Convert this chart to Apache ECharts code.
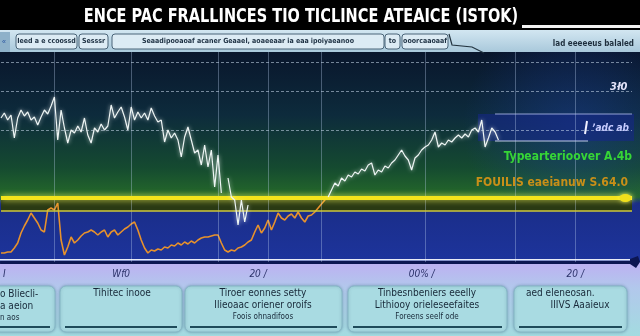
<!DOCTYPE html>
<html><head><meta charset="utf-8">
<script src="https://cdn.jsdelivr.net/npm/echarts@6/dist/echarts.min.js"></script>
<style>html,body{margin:0;padding:0;background:#000;}#c{width:640px;height:336px;}</style>
</head><body><div id="c"></div>
<script>
// ---- data ----
const dayCount = 190;
const categories = Array.from({length: dayCount}, (_, i) => 'D' + (i + 1));
const tickLabels = {1: 'I', 36: 'Wf0', 77: '20 /', 126: '00% /', 172: '20 /'};

// price (white) segments
const priceEarly = [144,149,142,147,124,144,152,146,150,142,145,137,145,152,148,156,165,122,152,134,
  119,132,129,136,130,144,127,119,134,130,138,132,136,157,144,150,155,145,132,155,
  142,150,144,149,142,154,146,140,142,120,132,124,129,122,105,125,135,122,109,112,
  97,117,95,112,75,107,69];
const priceSpike = [84,65,62,37,62,40,57];
const priceRecovery = [65,72,79,76,84,81,87,85,90,88,93,91,97,99,87,92,90,96,94,99,
  102,107,112,106,102,92,104,107,112,115,117,122,130,115,119,117,122,120,124,127,
  124,128,125,132,134,130,142,115,124,134,130,122];
// oscillator (orange)
const oscValues = [9,9,10,10,14,19,29,36,42,49,44,39,32,30,52,54,52,59,22,7,
  15,25,19,22,26,29,30,32,30,27,30,32,25,30,32,27,30,33,35,38,
  40,32,22,14,9,12,11,13,12,15,14,17,16,19,17,20,18,21,19,22,
  24,25,25,26,27,27,19,12,10,12,11,14,15,17,20,22,30,37,29,34,
  42,32,40,49,44,42,46,48,44,50,44,40,46,47,50,54,58,62,65];
const supportLevel = 64;     // thick yellow
const lowerBand = 51;        // thin yellow
const supportEndIndex = 187; // marker at line end
const gridY = [200, 171, 132];
const gridX = [16, 39, 65, 80, 96, 127, 154, 172];

function place(segments) {
  const arr = new Array(dayCount).fill(null);
  segments.forEach(([start, vals]) => vals.forEach((v, i) => { arr[start + i] = v; }));
  return arr;
}
const whiteSeries = place([[0, priceEarly], [68, priceSpike], [98, priceRecovery]]);
const orangeSeries = place([[0, oscValues]]);

// ---- chart ----
const chart = echarts.init(document.getElementById('c'), null, {renderer: 'canvas', width: 640, height: 336});
const NARROW = "'Liberation Sans Narrow','DejaVu Sans Condensed',sans-serif";
const COND = "'DejaVu Sans Condensed','Liberation Sans Narrow',sans-serif";

function button(x, w, label) {
  return [
    {type: 'rect', z: -5, shape: {x: x, y: 34, width: w, height: 15, r: 3},
      style: {fill: '#dcebf4', stroke: '#4a6478', lineWidth: 1}},
    {type: 'text', z: -4, style: {x: x + w / 2, y: 41.5, text: label, textAlign: 'center', textVerticalAlign: 'middle',
      fill: '#1d3042', font: 'bold 7px ' + COND}}
  ];
}
function card(x, w, lines) {
  const els = [
    {type: 'rect', z: -5, shape: {x: x, y: 286, width: w, height: 46, r: 6},
      style: {fill: '#a9dbe2', stroke: '#86b7c6', lineWidth: 1, shadowBlur: 3, shadowColor: 'rgba(40,80,110,0.35)'}},
    {type: 'line', z: -4, shape: {x1: x + 5, y1: 327, x2: x + w - 5, y2: 327},
      style: {stroke: '#1f4b5a', lineWidth: 2}}
  ];
  lines.forEach(l => els.push({type: 'text', z: -4, style: {x: l.x, y: l.y, text: l.t, textAlign: l.a || 'center',
    textVerticalAlign: 'middle', fill: '#172838', font: (l.s || 10) + 'px ' + COND}}));
  return els;
}

const graphics = [
  // title bar
  {type: 'rect', z: -10, shape: {x: 0, y: 0, width: 640, height: 30}, style: {fill: '#000'}},
  {type: 'text', z: 10, x: 301, y: 17, scaleX: 0.85,
    style: {x: 0, y: 0, text: 'ENCE PAC FRALLINCES TIO TICLINCE ATEAICE (ISTOK)',
    textAlign: 'center', textVerticalAlign: 'middle', fill: '#ffffff', font: 'bold 19px ' + NARROW}},
  {type: 'rect', z: 10, shape: {x: 522, y: 25, width: 118, height: 3}, style: {fill: '#f2f2f2'}},
  // toolbar
  {type: 'rect', z: -10, shape: {x: 0, y: 30, width: 640, height: 23},
    style: {fill: new echarts.graphic.LinearGradient(0, 0, 0, 1, [{offset: 0, color: '#d2e6f1'}, {offset: 1, color: '#a7c7da'}])}},
  {type: 'rect', z: -5, shape: {x: 0, y: 32, width: 10, height: 20}, style: {fill: '#8eb1c9'}},
  {type: 'text', z: -4, style: {x: 4, y: 42, text: '«', textAlign: 'center', textVerticalAlign: 'middle', fill: '#2a55a0', font: '7px sans-serif'}},
  ...button(16, 61, 'Ieed a e ccoossd'),
  ...button(79, 29, 'Sesssr'),
  ...button(112, 272, 'Seaadipooaoaf acaner Geaael, aoaeeaar ia eaa ipoiyaeanoo'),
  ...button(385, 15, 'to'),
  ...button(402, 46, 'ooorcaaoaaf'),
  {type: 'polyline', z: -4, shape: {points: [[449, 34], [452, 45], [472, 47], [484, 53]]},
    style: {stroke: '#22333f', lineWidth: 1.2, fill: null}},
  {type: 'text', z: -4, style: {x: 634, y: 44, text: 'lad eeeeeus balaled', textAlign: 'right', textVerticalAlign: 'middle',
    fill: '#1e2e3c', font: 'bold 8px ' + COND}},
  // plot background
  {type: 'rect', z: -10, shape: {x: 0, y: 52, width: 640, height: 210},
    style: {fill: new echarts.graphic.LinearGradient(0, 0, 0, 1, [
      {offset: 0, color: '#09162c'}, {offset: 0.3, color: '#0d2b3c'}, {offset: 0.55, color: '#154a30'},
      {offset: 0.69, color: '#256a2a'}, {offset: 0.72, color: '#1a2d88'}, {offset: 1, color: '#1d349c'}])}},
  {type: 'rect', z: -9, shape: {x: 380, y: 52, width: 260, height: 150},
    style: {fill: new echarts.graphic.RadialGradient(0.75, 0.5, 0.75, [
      {offset: 0, color: 'rgba(28,60,160,0.45)'}, {offset: 1, color: 'rgba(28,60,160,0)'}])}},
  // lower panel
  {type: 'rect', z: -10, shape: {x: 0, y: 262, width: 640, height: 74},
    style: {fill: new echarts.graphic.LinearGradient(0, 0, 0, 1, [
      {offset: 0, color: '#bdb0f2'}, {offset: 0.35, color: '#b2c8ec'}, {offset: 1, color: '#a3dbe0'}])}},
  {type: 'rect', z: 6, shape: {x: 0, y: 259, width: 634, height: 1.5}, style: {fill: 'rgba(255,255,255,0.9)'}},
  {type: 'polygon', z: 6, shape: {points: [[630, 259], [638, 256], [640, 262], [636, 268], [630, 264]]}, style: {fill: '#0c1652'}},
  // right side labels
  {type: 'text', z: 10, style: {x: 610, y: 87, text: '3ł0', textAlign: 'left', textVerticalAlign: 'middle', fill: '#e4e4fa', font: 'italic bold 11px ' + COND}},
  {type: 'rect', z: 1, shape: {x: 478, y: 114, width: 156, height: 27}, style: {fill: 'rgba(22,38,140,0.55)'}},
  {type: 'line', z: 5, shape: {x1: 495, y1: 114, x2: 632, y2: 114}, style: {stroke: 'rgba(170,182,232,0.85)', lineWidth: 1}},
  {type: 'line', z: 5, shape: {x1: 495, y1: 141, x2: 588, y2: 141}, style: {stroke: 'rgba(210,218,244,0.9)', lineWidth: 1}},
  {type: 'line', z: 5, shape: {x1: 587, y1: 121, x2: 585, y2: 134}, style: {stroke: '#f0f0ff', lineWidth: 2}},
  {type: 'text', z: 10, style: {x: 592, y: 128, text: 'ʼadc ab', textAlign: 'left', textVerticalAlign: 'middle', fill: '#c6cbff', font: 'italic bold 10px ' + COND}},
  {type: 'text', z: 10, style: {x: 632, y: 157, text: 'Typearterioover A.4b', textAlign: 'right', textVerticalAlign: 'middle', fill: '#36d636', font: 'bold 12px ' + COND}},
  {type: 'text', z: 10, style: {x: 628, y: 183, text: 'FOUILIS eaeianuw S.64.0', textAlign: 'right', textVerticalAlign: 'middle', fill: '#c88f18', font: 'bold 12px ' + COND}},
  // cards
  ...card(-6, 61, [{x: 0, y: 294, t: 'o Bliecli-', a: 'left'}, {x: 0, y: 306, t: 'a aeion', a: 'left'}, {x: 0, y: 318, t: 'n aos', a: 'left', s: 8}]),
  ...card(60, 122, [{x: 122, y: 293, t: 'Tihitec inooe'}]),
  ...card(185, 157, [{x: 263, y: 293, t: 'Tiroer eonnes setty'}, {x: 263, y: 305, t: 'Ilieoaac oriener oroifs'}, {x: 263, y: 317, t: 'Foois ohnadifoos', s: 8}]),
  ...card(348, 159, [{x: 427, y: 293, t: 'Tinbesnbeniers eeelly'}, {x: 427, y: 305, t: 'Lithiooy orieleseefaites'}, {x: 427, y: 317, t: 'Foreens seelf ode', s: 8}]),
  ...card(514, 113, [{x: 526, y: 293, t: 'aed eleneosan.', a: 'left'}, {x: 580, y: 305, t: 'IIIVS Aaaieux'}])
];

const option = {
  backgroundColor: '#000',
  animation: false,
  grid: {left: 0, right: 8, top: 52, height: 210},
  xAxis: {
    type: 'category', data: categories, boundaryGap: false,
    axisLine: {show: true, lineStyle: {color: '#0c1652', width: 3}},
    axisTick: {show: false},
    splitLine: {show: false},
    axisLabel: {
      interval: (idx) => tickLabels[idx] !== undefined,
      formatter: (v, idx) => tickLabels[idx] || '',
      margin: 7, color: '#2a3168', fontSize: 10, fontStyle: 'italic', fontFamily: COND
    }
  },
  yAxis: {type: 'value', min: 0, max: 210, show: false, splitLine: {show: false}},
  graphic: graphics,
  series: [
    {
      name: 'grid', type: 'line', data: [], z: 1, silent: true,
      markLine: {
        silent: true, symbol: ['none', 'none'], label: {show: false},
        data: [
          ...gridY.map(v => ({yAxis: v, lineStyle: {color: 'rgba(205,222,240,0.55)', width: 1, type: [3, 2]}})),
          ...gridX.map(v => ({xAxis: v, lineStyle: {color: 'rgba(190,210,240,0.35)', width: 1, type: 'solid'}}))
        ]
      }
    },
    {
      name: 'support', type: 'line', data: [], z: 3, silent: true,
      markArea: {silent: true, itemStyle: {color: '#2a3a14'}, data: [[{yAxis: lowerBand}, {yAxis: supportLevel}]]},
      markLine: {
        silent: true, symbol: ['none', 'none'], label: {show: false},
        data: [
          {yAxis: supportLevel,
            lineStyle: {color: '#f4e41c', width: 4, type: 'solid', shadowBlur: 6, shadowColor: 'rgba(255,255,90,0.8)'}},
          {yAxis: lowerBand, lineStyle: {color: '#cfc83a', width: 1.5, type: 'solid'}}
        ]
      },
      markPoint: {
        silent: true, symbol: 'circle', symbolSize: [12, 8], label: {show: false},
        itemStyle: {color: '#efdf1c', shadowBlur: 4, shadowColor: 'rgba(255,255,90,0.8)'},
        data: [{coord: [supportEndIndex, supportLevel]}]
      }
    },
    {
      name: 'oscillator', type: 'line', data: orangeSeries, z: 4, symbol: 'none', connectNulls: false,
      lineStyle: {color: '#e8922c', width: 1.6}
    },
    {
      name: 'price', type: 'line', data: whiteSeries, z: 5, symbol: 'none', connectNulls: false,
      lineStyle: {color: '#eef5f4', width: 1.2, shadowBlur: 4, shadowColor: 'rgba(255,255,255,0.7)'}
    }
  ]
};
chart.setOption(option);
</script>
</body></html>
